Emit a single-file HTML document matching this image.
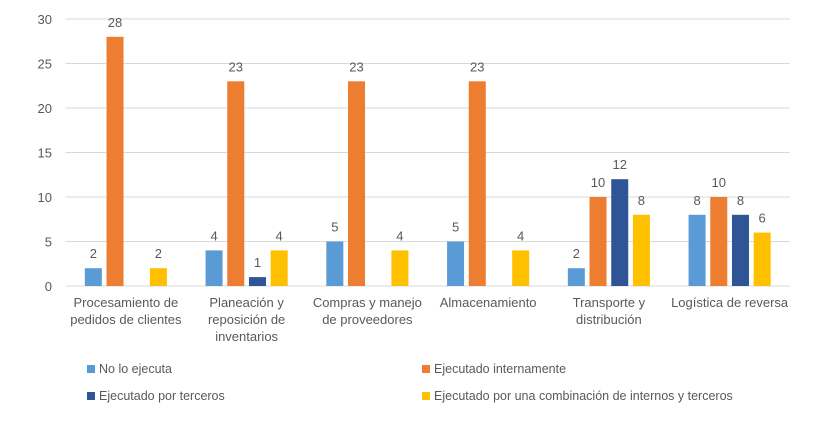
<!DOCTYPE html>
<html><head><meta charset="utf-8"><style>
body{margin:0;background:#fff;font-family:"Liberation Sans",sans-serif;}
svg text{font-family:"Liberation Sans",sans-serif;fill:#595959;}
</style></head><body>
<svg id="chart" width="822" height="429" xmlns="http://www.w3.org/2000/svg"></svg>
<script>
const categories=[["Procesamiento de","pedidos de clientes"],["Planeación y","reposición de","inventarios"],["Compras y manejo","de proveedores"],["Almacenamiento"],["Transporte y","distribución"],["Logística de reversa"]];
const seriesNames=["No lo ejecuta","Ejecutado internamente","Ejecutado por terceros","Ejecutado por una combinación de internos y terceros"];
const noEjecuta=[2,4,5,5,2,8];
const internamente=[28,23,23,23,10,10];
const terceros=[0,1,0,0,12,8];
const combinacion=[2,4,4,4,8,6];
const yTicks=[0,5,10,15,20,25,30];
const series=[noEjecuta,internamente,terceros,combinacion];
const colors=["#5b9bd5","#ed7d31","#2f5597","#ffc000"];
const svg=document.getElementById('chart');
const NS="http://www.w3.org/2000/svg";
const x0=65.5,x1=790,yTop=19,yBot=286,yMax=30;
const band=(x1-x0)/categories.length;
function yS(v){return yBot-(v/yMax)*(yBot-yTop);}
function xC(i){return x0+band*(i+0.5);}
function mk(t,a,p){const e=document.createElementNS(NS,t);for(const k in a)e.setAttribute(k,a[k]);(p||svg).appendChild(e);return e;}
yTicks.forEach(t=>{
 const l=mk('line',{x1:x0,x2:x1,y1:yS(t),y2:yS(t),stroke:'#d9d9d9','stroke-width':1});
 
 
 const tx=mk('text',{x:52,y:yS(t)+5,'text-anchor':'end','font-size':13});
 tx.textContent=t;
 
 
});
const bw=17,step=21.7;
categories.forEach((c,i)=>{
 series.forEach((s,j)=>{
  const v=s[i];
  if(!v)return;
  const bx=xC(i)+(j-1.5)*step-bw/2;
  const r=mk('rect',{x:bx,y:yS(v),width:bw,height:yBot-yS(v),fill:colors[j]});
  
  
  const t=mk('text',{x:bx+bw/2,y:yS(v)-10,'text-anchor':'middle','font-size':13,fill:'#404040'});
  t.textContent=v;
  
  
 });
 c.forEach((ln,k)=>{
  const t=mk('text',{x:xC(i),y:307+k*17,'text-anchor':'middle','font-size':13});
  t.textContent=ln;
  
  
 });
});
const legPos=[[87,373],[422,373],[87,400],[422,400]];
seriesNames.forEach((n,j)=>{
 const g=mk('g',{});
 
 
 mk('rect',{x:legPos[j][0],y:legPos[j][1]-8,width:8,height:8,fill:colors[j]},g);
 const t=mk('text',{x:legPos[j][0]+12,y:legPos[j][1],'font-size':12.5},g);
 t.textContent=n;
});
</script>
</body></html>
